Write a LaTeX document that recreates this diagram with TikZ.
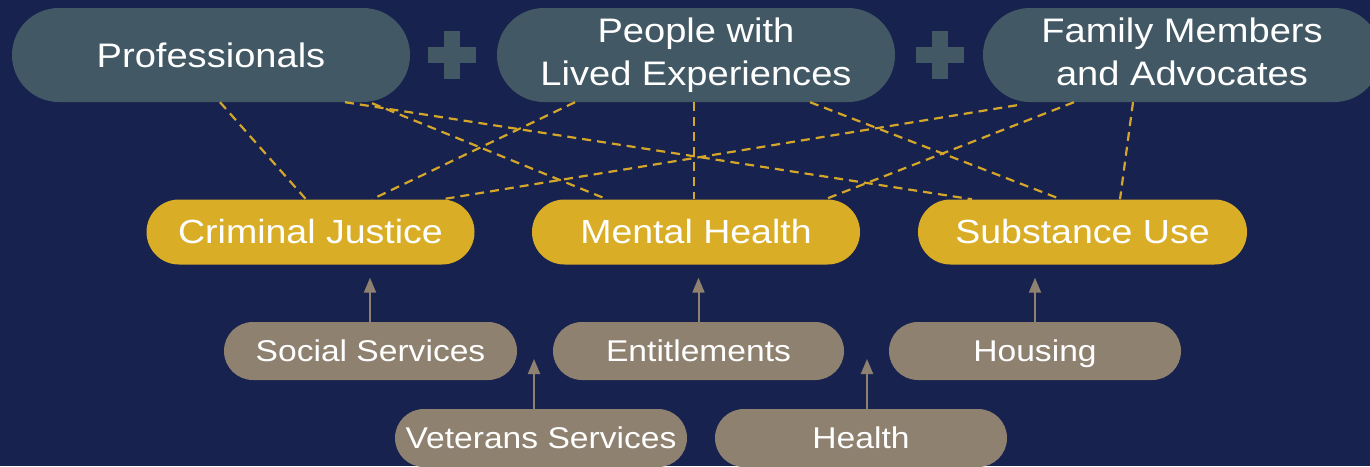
\documentclass[tikz,border=0pt]{standalone}
\usepackage{fontspec}
\setmainfont{Liberation Sans}[FakeStretch=1.12]
\usetikzlibrary{arrows.meta}
\definecolor{bgnavy}{HTML}{17224E}
\definecolor{topgray}{HTML}{425965}
\definecolor{mustard}{HTML}{DAAD27}
\definecolor{taupe}{HTML}{8F8170}
\definecolor{dashgold}{HTML}{D4A62A}
\tikzset{
  topbox/.style={draw=none,fill=topgray,text=white,align=center,inner sep=0pt,
    minimum height=94pt,rounded corners=46.9pt,font=\fontsize{34}{43}\selectfont},
  midbox/.style={draw=none,fill=mustard,text=white,inner sep=0pt,minimum width=328pt,
    minimum height=65pt,rounded corners=32.4pt,text height=24pt,text depth=1pt,
    font=\fontsize{33.5}{40}\selectfont},
  lowbox/.style={draw=none,fill=taupe,text=white,inner sep=0pt,minimum width=292pt,
    minimum height=58pt,rounded corners=28.9pt,text height=22pt,text depth=2pt,
    font=\fontsize{30}{36}\selectfont},
  link/.style={draw=dashgold,line width=2.2pt,dash pattern=on 9pt off 6pt},
  feed/.style={draw=taupe,line width=2pt,-{Triangle[length=15pt,width=12pt]}},
  plussign/.style={fill=topgray}
}
\begin{document}
\begin{tikzpicture}[x=1pt,y=-1pt]
\useasboundingbox (0,0) rectangle (1370,466);
\fill[bgnavy] (0,0) rectangle (1370,466);
% top row
\node[topbox,minimum width=398pt] (prof) at (211,55) {Professionals};
\node[topbox,minimum width=398pt] (people) at (696,55) {People with\strut\\Lived Experiences\strut};
\node[topbox,minimum width=398pt] (family) at (1182,55) {Family Members\strut\\and Advocates\strut};
% plus signs
\fill[plussign] (428,47) rectangle (476,63);
\fill[plussign] (444,31) rectangle (460,79);
\fill[plussign] (916,47) rectangle (964,63);
\fill[plussign] (932,31) rectangle (948,79);
% middle row
\node[midbox] (cj) at (310.5,232) {Criminal Justice};
\node[midbox] (mh) at (696,232) {Mental Health};
\node[midbox,minimum width=329pt] (su) at (1082.5,232) {Substance Use};
% lower rows
\node[lowbox,minimum width=293pt] (soc) at (370.5,351) {Social Services};
\node[lowbox,minimum width=291pt] (ent) at (698.5,351) {Entitlements};
\node[lowbox] (hou) at (1035,351) {Housing};
\node[lowbox] (vet) at (541,438) {Veterans Services};
\node[lowbox] (hea) at (861,438) {Health};
% dashed links
\draw[link] ([xshift=9pt]prof.south) -- ([xshift=-4.5pt]cj.north);
\draw[link] ([xshift=161pt,yshift=-1pt]prof.south) -- ([xshift=-89pt]mh.north);
\draw[link] ([xshift=134pt]prof.south) -- ([xshift=-110.5pt]su.north);
\draw[link] ([xshift=-121pt]people.south) -- ([xshift=61.5pt]cj.north);
\draw[link] ([xshift=-2pt]people.south) -- ([xshift=-2pt]mh.north);
\draw[link] ([xshift=114pt]people.south) -- ([xshift=-21.5pt]su.north);
\draw[link] ([xshift=-165pt,yshift=-3pt]family.south) -- ([xshift=131.5pt]cj.north);
\draw[link] ([xshift=-108pt]family.south) -- ([xshift=129pt]mh.north);
\draw[link] ([xshift=-49pt]family.south) -- ([xshift=37.5pt]su.north);
% feeder arrows
\coordinate (vtip) at (534,359);
\coordinate (htip) at (867,359);
\draw[feed,shorten >=13pt] ([xshift=-0.5pt]soc.north) -- ([xshift=59.5pt]cj.south);
\draw[feed,shorten >=13pt] (ent.north) -- ([xshift=2.5pt]mh.south);
\draw[feed,shorten >=13pt] (hou.north) -- ([xshift=-47.5pt]su.south);
\draw[feed] (vtip |- vet.north) -- (vtip);
\draw[feed] (htip |- hea.north) -- (htip);
\end{tikzpicture}
\end{document}
